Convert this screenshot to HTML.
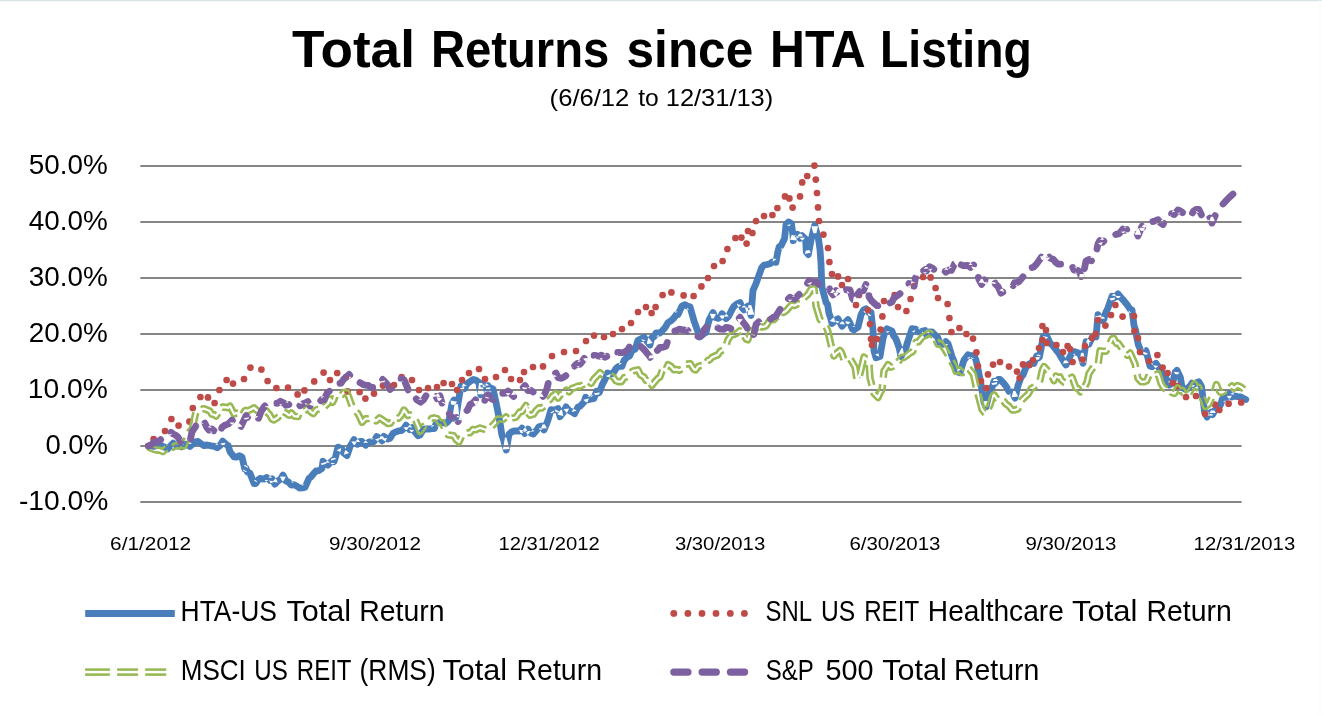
<!DOCTYPE html>
<html><head><meta charset="utf-8"><title>Total Returns since HTA Listing</title>
<style>html,body{margin:0;padding:0;background:#fff}svg{display:block}text{font-family:"Liberation Sans",sans-serif;fill:#000}</style></head><body>
<svg width="1322" height="714" viewBox="0 0 1322 714">
<rect x="0" y="0" width="1322" height="714" fill="#fff"/>
<rect x="0" y="0" width="1322" height="1" fill="#d9e3e6"/><rect x="0" y="1" width="1322" height="1" fill="#f3f8f9"/>
<rect x="1319.5" y="0" width="1" height="714" fill="#f7f9fa"/>
<g style="opacity:0.999">
<text x="291.98" y="66.8" font-size="52" font-weight="bold" textLength="122.95" lengthAdjust="spacingAndGlyphs">Total</text>
<text x="430.88" y="66.8" font-size="52" font-weight="bold" textLength="178.38" lengthAdjust="spacingAndGlyphs">Returns</text>
<text x="626.6" y="66.8" font-size="52" font-weight="bold" textLength="126.59" lengthAdjust="spacingAndGlyphs">since</text>
<text x="770.12" y="66.8" font-size="52" font-weight="bold" textLength="95.63" lengthAdjust="spacingAndGlyphs">HTA</text>
<text x="880.03" y="66.8" font-size="52" font-weight="bold" textLength="151.72" lengthAdjust="spacingAndGlyphs">Listing</text>
<text x="549.63" y="106.1" font-size="24" textLength="79.73" lengthAdjust="spacingAndGlyphs">(6/6/12</text>
<text x="638.2" y="106.1" font-size="24" textLength="20.54" lengthAdjust="spacingAndGlyphs">to</text>
<text x="665.78" y="106.1" font-size="24" textLength="107.42" lengthAdjust="spacingAndGlyphs">12/31/13)</text>
<text x="28.82" y="174.3" font-size="28.5" textLength="78.97" lengthAdjust="spacingAndGlyphs">50.0%</text>
<text x="28.82" y="230.3" font-size="28.5" textLength="78.97" lengthAdjust="spacingAndGlyphs">40.0%</text>
<text x="28.82" y="286.3" font-size="28.5" textLength="78.97" lengthAdjust="spacingAndGlyphs">30.0%</text>
<text x="28.82" y="342.3" font-size="28.5" textLength="78.97" lengthAdjust="spacingAndGlyphs">20.0%</text>
<text x="27.82" y="398.3" font-size="28.5" textLength="79.98" lengthAdjust="spacingAndGlyphs">10.0%</text>
<text x="45.44" y="454.3" font-size="28.5" textLength="62.49" lengthAdjust="spacingAndGlyphs">0.0%</text>
<text x="18.91" y="510.3" font-size="28.5" textLength="89.39" lengthAdjust="spacingAndGlyphs">-10.0%</text>
<text x="110.09" y="550.2" font-size="18.8" textLength="81.04" lengthAdjust="spacingAndGlyphs">6/1/2012</text>
<text x="329.1" y="550.2" font-size="18.8" textLength="91.82" lengthAdjust="spacingAndGlyphs">9/30/2012</text>
<text x="498.42" y="550.2" font-size="18.8" textLength="101.25" lengthAdjust="spacingAndGlyphs">12/31/2012</text>
<text x="674.92" y="550.2" font-size="18.8" textLength="90.29" lengthAdjust="spacingAndGlyphs">3/30/2013</text>
<text x="849.41" y="550.2" font-size="18.8" textLength="91.0" lengthAdjust="spacingAndGlyphs">6/30/2013</text>
<text x="1025.41" y="550.2" font-size="18.8" textLength="91.0" lengthAdjust="spacingAndGlyphs">9/30/2013</text>
<text x="1193.62" y="550.2" font-size="18.8" textLength="101.56" lengthAdjust="spacingAndGlyphs">12/31/2013</text>
<text x="180.58" y="621.3" font-size="29" textLength="96.35" lengthAdjust="spacingAndGlyphs">HTA-US</text>
<text x="286.44" y="621.3" font-size="29" textLength="64.65" lengthAdjust="spacingAndGlyphs">Total</text>
<text x="359.24" y="621.3" font-size="29" textLength="85.26" lengthAdjust="spacingAndGlyphs">Return</text>
<text x="180.7" y="680.3" font-size="29" textLength="65.14" lengthAdjust="spacingAndGlyphs">MSCI</text>
<text x="254.34" y="680.3" font-size="29" textLength="33.54" lengthAdjust="spacingAndGlyphs">US</text>
<text x="296.85" y="680.3" font-size="29" textLength="54.63" lengthAdjust="spacingAndGlyphs">REIT</text>
<text x="359.58" y="680.3" font-size="29" textLength="76.12" lengthAdjust="spacingAndGlyphs">(RMS)</text>
<text x="442.54" y="680.3" font-size="29" textLength="64.65" lengthAdjust="spacingAndGlyphs">Total</text>
<text x="516.54" y="680.3" font-size="29" textLength="85.47" lengthAdjust="spacingAndGlyphs">Return</text>
<text x="765.58" y="621.3" font-size="29" textLength="46.47" lengthAdjust="spacingAndGlyphs">SNL</text>
<text x="820.9" y="621.3" font-size="29" textLength="34.2" lengthAdjust="spacingAndGlyphs">US</text>
<text x="864.13" y="621.3" font-size="29" textLength="55.05" lengthAdjust="spacingAndGlyphs">REIT</text>
<text x="927.86" y="621.3" font-size="29" textLength="135.95" lengthAdjust="spacingAndGlyphs">Healthcare</text>
<text x="1071.93" y="621.3" font-size="29" textLength="65.49" lengthAdjust="spacingAndGlyphs">Total</text>
<text x="1146.54" y="621.3" font-size="29" textLength="85.26" lengthAdjust="spacingAndGlyphs">Return</text>
<text x="765.67" y="680.3" font-size="29" textLength="47.98" lengthAdjust="spacingAndGlyphs">S&amp;P</text>
<text x="825.41" y="680.3" font-size="29" textLength="48.08" lengthAdjust="spacingAndGlyphs">500</text>
<text x="882.25" y="680.3" font-size="29" textLength="64.54" lengthAdjust="spacingAndGlyphs">Total</text>
<text x="954.04" y="680.3" font-size="29" textLength="85.26" lengthAdjust="spacingAndGlyphs">Return</text>
</g>
<line x1="140.3" y1="166" x2="1241.6" y2="166" stroke="#858585" stroke-width="2.1"/>
<line x1="140.3" y1="222" x2="1241.6" y2="222" stroke="#858585" stroke-width="2.1"/>
<line x1="140.3" y1="278" x2="1241.6" y2="278" stroke="#858585" stroke-width="2.1"/>
<line x1="140.3" y1="334" x2="1241.6" y2="334" stroke="#858585" stroke-width="2.1"/>
<line x1="140.3" y1="390" x2="1241.6" y2="390" stroke="#858585" stroke-width="2.1"/>
<line x1="140.3" y1="446" x2="1241.6" y2="446" stroke="#858585" stroke-width="2.1"/>
<line x1="140.3" y1="502" x2="1241.6" y2="502" stroke="#858585" stroke-width="2.1"/>
<mask id="bm" maskUnits="userSpaceOnUse" x="0" y="0" width="1322" height="714"><rect x="0" y="0" width="1322" height="714" fill="#fff"/><path d="M169.4,446.0 L167.0,444.6 L167.0,444.6 L165.1,446.6ZM175.6,445.4 L173.1,448.0 L173.1,448.0 L170.7,445.4ZM178.4,443.7 L177.1,442.4 L177.1,442.4 L175.3,442.7ZM180.9,448.4 L179.5,448.8 L178.4,448.4 L177.4,447.4ZM184.0,444.5 L182.6,442.9 L181.1,442.8 L179.4,444.0ZM192.0,443.8 L189.9,442.2 L189.9,442.2 L187.8,443.9ZM218.7,444.6 L216.8,443.7 L216.8,443.7 L215.2,444.9ZM225.6,442.8 L223.4,446.5 L223.4,446.5 L220.3,443.5ZM248.0,468.0 L247.7,466.6 L245.0,465.0 L243.6,465.5ZM247.0,471.5 L245.7,471.9 L243.3,470.8 L242.8,469.5ZM257.2,482.4 L256.6,480.9 L255.3,480.1 L253.7,480.3ZM268.5,480.3 L266.3,481.6 L266.3,481.6 L264.4,480.0ZM272.2,477.7 L270.2,476.0 L270.2,476.0 L268.1,477.4ZM274.1,481.6 L271.9,483.1 L270.3,482.7 L269.1,480.4ZM277.9,482.5 L275.9,478.6 L275.6,478.5 L272.5,481.7ZM285.9,476.8 L283.3,481.2 L282.2,481.1 L279.9,476.6ZM293.8,482.8 L292.5,481.5 L292.5,481.5 L290.7,481.9ZM304.5,484.1 L302.6,484.4 L302.6,484.4 L301.9,486.1ZM326.4,461.8 L326.1,463.7 L322.0,465.1 L320.6,463.7ZM329.9,462.4 L327.5,460.7 L327.3,460.7 L325.4,463.0ZM334.9,462.9 L333.6,464.1 L331.8,464.2 L330.5,463.0ZM336.2,459.0 L334.8,457.8 L331.3,458.8 L330.8,460.5ZM341.3,448.0 L340.3,451.9 L340.3,451.9 L336.6,450.2ZM349.2,453.1 L345.8,450.3 L345.1,450.5 L343.8,454.7ZM357.0,441.2 L354.9,445.0 L353.9,445.1 L351.3,441.6ZM360.1,442.1 L357.8,439.0 L357.8,439.0 L355.0,441.7ZM368.1,442.8 L365.6,440.4 L365.6,440.4 L363.2,442.8ZM373.8,438.2 L371.8,438.3 L371.8,438.3 L370.9,440.0ZM379.6,438.1 L378.0,441.2 L378.0,441.2 L375.0,439.5ZM384.7,438.6 L382.5,436.1 L380.3,436.5 L379.0,439.5ZM387.1,437.7 L385.5,441.6 L385.5,441.6 L382.1,439.2ZM408.9,427.0 L407.0,430.0 L405.6,430.1 L403.4,427.3ZM412.3,427.5 L410.3,425.1 L409.8,425.1 L407.5,427.0ZM414.2,430.3 L411.8,432.2 L411.0,432.1 L409.2,429.6ZM420.6,433.6 L419.2,431.8 L418.9,431.7 L416.8,432.4ZM434.4,425.2 L431.9,425.3 L431.9,425.3 L431.2,427.6ZM439.2,424.5 L438.7,426.3 L438.7,426.3 L436.9,426.8ZM457.0,401.7 L455.0,405.3 L451.1,404.5 L450.6,400.4ZM459.4,417.2 L457.9,404.3 L454.5,404.2 L452.6,417.1ZM464.3,386.7 L463.6,391.0 L462.7,391.4 L459.1,388.9ZM466.6,385.8 L463.3,383.6 L463.3,383.6 L461.6,387.1ZM484.1,394.2 L482.3,383.1 L479.2,383.1 L477.3,394.2ZM486.0,384.2 L485.6,386.4 L481.1,387.4 L479.8,385.6ZM488.9,385.3 L486.9,383.6 L485.1,383.9 L483.8,386.0ZM490.9,387.5 L489.7,389.3 L486.8,389.5 L485.4,387.8ZM491.8,392.0 L490.1,391.3 L490.1,391.3 L489.7,389.5ZM509.6,449.1 L506.4,437.5 L505.0,437.6 L502.9,449.4ZM524.6,430.4 L522.3,433.2 L520.7,433.0 L519.0,429.7ZM527.7,432.0 L525.2,427.0 L525.2,427.0 L522.0,431.5ZM530.7,431.0 L527.9,434.9 L527.8,434.9 L525.2,430.9ZM534.7,431.0 L532.4,430.0 L532.4,430.0 L530.8,431.9ZM542.6,429.2 L540.0,429.9 L540.0,429.9 L538.7,427.7ZM546.9,428.2 L544.6,424.2 L542.6,424.4 L540.9,428.6ZM554.3,410.5 L553.8,412.1 L551.7,413.3 L550.0,412.8ZM559.6,411.7 L557.4,412.6 L555.4,411.6 L554.8,409.3ZM563.3,415.9 L562.0,410.0 L560.9,409.8 L557.3,414.6ZM569.1,408.4 L567.1,412.6 L566.6,412.7 L563.5,409.2ZM576.6,410.8 L573.9,409.0 L573.1,409.3 L571.6,412.1ZM588.9,398.4 L587.6,401.9 L586.1,402.3 L583.4,399.8ZM590.7,397.3 L589.3,396.0 L589.3,396.0 L587.5,396.5ZM593.5,395.2 L591.6,395.5 L591.4,395.7 L590.7,397.4ZM599.8,392.4 L599.0,394.5 L595.2,395.0 L593.9,393.2ZM600.8,391.1 L599.9,389.8 L597.9,389.3 L596.5,390.0ZM610.8,374.1 L609.9,376.7 L608.2,377.3 L605.9,375.9ZM622.0,363.0 L619.6,363.0 L619.6,363.0 L618.8,365.2ZM645.5,340.3 L643.0,341.6 L643.0,341.6 L641.3,339.3ZM652.7,342.9 L648.8,338.1 L648.1,338.3 L646.7,344.3ZM659.1,334.5 L658.1,336.4 L658.1,336.4 L656.1,336.4ZM677.8,311.3 L676.2,311.4 L675.6,311.8 L674.9,313.2ZM689.3,310.0 L687.3,309.6 L687.3,309.6 L686.7,307.6ZM703.1,335.6 L701.5,331.8 L701.0,331.6 L697.8,334.4ZM716.0,314.1 L713.7,318.6 L711.7,318.5 L709.8,313.8ZM725.1,315.1 L723.5,318.6 L721.8,318.9 L719.3,315.8ZM728.7,316.6 L726.4,313.8 L726.4,313.8 L723.7,316.2ZM741.4,305.5 L738.3,307.0 L738.2,306.9 L736.9,303.8ZM746.4,307.5 L744.8,305.8 L743.3,305.8 L741.6,307.4ZM750.4,308.5 L746.4,312.2 L746.4,312.2 L744.8,307.0ZM754.2,314.4 L751.2,305.0 L748.4,305.3 L747.6,315.1ZM776.6,259.0 L773.2,258.4 L773.2,258.4 L772.6,261.8ZM782.5,247.4 L782.1,249.2 L782.0,249.3 L780.3,249.8ZM791.0,224.2 L789.2,226.2 L789.2,226.2 L786.8,224.9ZM796.7,240.5 L796.4,235.7 L791.6,235.1 L790.1,239.7ZM799.1,237.1 L796.7,238.5 L796.1,238.4 L794.6,236.0ZM803.0,236.5 L801.2,233.7 L799.2,233.7 L797.3,236.4ZM804.8,237.5 L803.0,240.2 L802.0,240.3 L799.6,238.0ZM811.0,252.6 L809.0,249.9 L805.6,250.7 L805.0,254.0ZM818.0,226.2 L816.3,233.2 L813.4,233.2 L811.4,226.3ZM835.3,322.6 L834.0,317.6 L833.6,317.4 L829.7,320.9ZM839.7,321.7 L837.6,322.9 L836.2,322.5 L835.0,320.4ZM845.0,324.6 L843.4,321.7 L841.6,321.5 L839.4,324.0ZM850.5,321.9 L848.3,324.2 L846.8,324.0 L845.1,321.3ZM855.5,326.8 L853.9,326.0 L853.6,326.0 L852.1,327.0ZM867.7,311.8 L865.1,313.3 L865.1,313.3 L863.3,310.9ZM871.6,310.6 L870.4,309.0 L870.4,309.0 L868.4,309.3ZM871.5,315.7 L869.4,316.0 L867.9,314.9 L867.6,312.7ZM879.3,356.8 L878.3,353.5 L878.3,353.5 L875.0,354.5ZM879.0,353.2 L877.0,353.9 L877.0,353.9 L876.6,355.9ZM889.5,331.0 L887.9,332.8 L887.7,332.8 L885.5,331.8ZM904.3,355.9 L902.8,348.3 L901.6,348.1 L898.0,355.0ZM915.2,329.7 L914.4,332.3 L914.4,332.3 L911.6,332.0ZM920.6,329.8 L919.5,328.3 L919.5,328.3 L917.6,328.6ZM925.9,333.8 L922.8,334.6 L922.8,334.6 L921.8,331.6ZM929.9,334.1 L928.4,330.0 L926.8,329.7 L924.0,333.0ZM944.2,341.0 L942.3,340.4 L942.3,340.4 L940.8,341.8ZM948.2,344.1 L946.2,346.1 L945.7,346.1 L943.6,344.2ZM959.3,370.8 L959.0,368.8 L959.0,368.8 L957.0,368.2ZM961.0,369.5 L957.8,368.4 L957.8,368.4 L956.8,371.7ZM970.7,356.8 L969.2,358.8 L969.2,358.8 L966.9,358.0ZM974.1,359.0 L971.8,359.1 L971.8,359.1 L970.9,357.0ZM989.1,405.6 L987.1,401.0 L983.8,401.3 L982.7,406.2ZM997.3,382.1 L996.7,384.3 L992.7,385.1 L991.3,383.3ZM998.1,381.0 L996.7,379.1 L994.1,379.1 L992.7,381.0ZM1012.1,389.9 L1011.2,388.4 L1011.2,388.4 L1009.5,388.3ZM1011.7,395.3 L1009.8,395.1 L1009.8,395.1 L1008.9,393.4ZM1018.1,396.6 L1015.1,390.4 L1013.3,390.6 L1011.7,397.3ZM1035.4,360.4 L1033.5,359.5 L1031.4,360.3 L1030.7,362.3ZM1039.8,357.1 L1039.0,359.5 L1035.1,359.9 L1033.7,357.6ZM1040.9,356.4 L1040.0,354.9 L1037.5,354.4 L1036.1,355.3ZM1048.2,337.2 L1045.3,339.6 L1044.6,339.4 L1043.0,336.1ZM1068.8,363.0 L1066.9,360.4 L1064.3,360.6 L1062.9,363.5ZM1075.4,353.3 L1074.7,354.7 L1074.4,354.9 L1072.8,355.1ZM1086.2,362.2 L1083.2,352.7 L1081.0,352.9 L1079.6,362.8ZM1089.4,342.1 L1088.8,346.0 L1086.6,346.8 L1083.7,344.2ZM1091.2,341.7 L1088.3,339.1 L1087.5,339.3 L1085.8,342.8ZM1096.6,333.4 L1095.0,333.1 L1092.8,334.8 L1092.6,336.5ZM1101.4,315.0 L1101.1,318.6 L1097.0,319.6 L1095.1,316.4ZM1105.1,318.4 L1103.5,316.7 L1101.2,316.9 L1099.8,318.8ZM1115.2,297.4 L1114.4,299.8 L1111.1,300.5 L1109.4,298.6ZM1116.2,296.0 L1114.6,294.1 L1113.5,294.0 L1111.5,295.6ZM1120.7,296.0 L1119.1,298.1 L1117.1,298.1 L1115.4,296.1ZM1131.1,313.1 L1129.2,312.6 L1128.9,312.2 L1128.6,310.3ZM1145.3,349.1 L1143.5,348.3 L1143.5,348.3 L1141.9,349.5ZM1148.0,353.5 L1145.9,355.0 L1143.4,354.1 L1142.7,351.6ZM1153.3,365.3 L1152.8,363.3 L1152.8,363.3 L1150.8,362.9ZM1153.0,363.4 L1151.3,363.0 L1151.3,363.0 L1149.9,364.1ZM1158.2,365.9 L1156.1,367.8 L1154.9,367.7 L1153.2,365.3ZM1172.4,383.6 L1171.3,381.4 L1169.7,380.9 L1167.6,382.1ZM1179.5,372.6 L1177.7,374.5 L1175.1,374.1 L1173.9,371.7ZM1194.9,384.9 L1193.8,386.6 L1190.9,386.9 L1189.5,385.4ZM1195.9,382.3 L1194.5,380.8 L1193.4,380.6 L1191.6,381.7ZM1199.9,385.0 L1198.0,385.6 L1196.9,385.2 L1195.9,383.4ZM1210.1,415.7 L1207.9,411.2 L1207.1,411.1 L1204.2,415.1ZM1213.4,414.7 L1212.0,415.8 L1209.1,415.2 L1208.3,413.6ZM1215.7,413.0 L1214.3,410.5 L1210.9,410.5 L1209.6,413.1ZM1225.6,399.9 L1225.2,401.2 L1224.1,402.1 L1222.8,402.3ZM1232.0,395.7 L1230.1,398.5 L1228.8,398.6 L1226.6,396.1ZM1234.5,394.8 L1232.9,393.0 L1232.3,392.9 L1230.2,394.1Z" fill="#000"/></mask>
<path d="M148.4,446.0 L150.0,445.6 L153.9,446.4 L156.7,445.8 L159.4,444.9 L162.2,446.0 L164.9,447.3 L167.7,448.9 L170.0,446.3 L173.2,443.1 L175.9,446.0 L178.7,445.5 L180.0,445.2 L181.4,446.8 L184.2,444.7 L186.9,444.2 L190.0,446.5 L192.4,444.5 L195.2,441.8 L198.0,441.5 L200.7,443.5 L204.0,445.7 L206.2,445.0 L208.9,445.3 L211.7,446.1 L214.0,446.1 L217.2,447.7 L219.9,445.7 L222.7,441.1 L226.0,444.3 L228.2,445.6 L230.0,451.7 L234.0,456.9 L236.4,457.1 L239.2,455.7 L242.0,457.0 L244.7,468.7 L246.0,468.3 L247.4,471.9 L250.0,473.2 L254.0,483.6 L255.7,483.5 L258.4,479.6 L260.0,478.3 L263.9,479.1 L266.6,477.4 L270.0,480.3 L272.1,478.8 L274.9,484.1 L278.0,480.9 L280.4,479.4 L283.0,475.1 L285.9,481.0 L288.0,481.7 L291.4,485.2 L294.1,484.6 L298.0,486.9 L299.6,488.2 L302.4,487.9 L305.0,487.5 L309.0,478.4 L310.6,477.2 L314.0,473.2 L316.1,470.9 L318.9,470.6 L322.0,468.4 L323.0,461.3 L324.4,462.7 L328.0,465.2 L329.9,462.9 L332.6,460.4 L334.0,461.6 L335.4,457.3 L338.0,447.1 L342.0,448.9 L343.6,452.9 L347.0,455.7 L350.0,446.6 L351.9,443.4 L354.0,439.6 L357.4,444.2 L360.1,441.4 L362.0,441.5 L365.6,445.2 L368.4,442.4 L370.0,441.8 L373.9,441.6 L376.6,436.5 L380.0,438.4 L382.1,440.8 L384.0,436.4 L387.6,439.0 L390.0,438.2 L393.1,433.2 L396.0,431.8 L398.6,430.8 L401.4,430.6 L404.1,428.2 L406.0,425.2 L409.6,429.6 L412.0,427.7 L415.1,432.2 L417.9,435.7 L420.0,435.0 L423.4,429.4 L426.1,428.8 L430.0,429.0 L431.6,428.7 L434.4,428.6 L436.0,423.5 L439.9,422.4 L442.0,422.4 L445.4,423.3 L447.0,422.5 L449.0,420.3 L452.0,403.6 L454.0,400.0 L456.0,417.6 L458.3,401.6 L461.0,386.1 L464.6,388.6 L467.0,383.7 L470.1,381.4 L473.4,379.5 L475.6,380.0 L478.7,382.3 L480.7,394.8 L482.6,383.6 L483.9,385.5 L486.6,387.8 L488.0,385.7 L489.4,387.4 L493.0,388.8 L496.0,402.3 L498.4,414.4 L500.4,425.1 L501.7,434.3 L503.1,438.4 L506.3,450.0 L509.0,434.2 L511.4,432.0 L514.0,431.0 L516.9,430.9 L519.6,431.1 L522.0,428.2 L524.7,433.5 L528.0,429.0 L530.6,433.0 L533.4,434.1 L536.0,431.1 L539.0,426.7 L541.6,425.9 L544.0,429.9 L548.0,420.1 L551.0,409.6 L552.6,410.0 L556.0,409.6 L558.1,408.6 L560.0,416.7 L563.6,411.9 L566.0,406.9 L569.1,410.4 L572.0,411.9 L574.6,413.7 L578.0,407.0 L580.1,406.3 L584.0,402.0 L585.6,397.3 L588.4,399.8 L592.0,398.8 L593.9,398.6 L596.6,391.2 L598.0,393.1 L599.4,392.4 L602.0,385.3 L606.0,377.4 L607.6,373.0 L610.0,374.4 L613.1,373.3 L616.0,368.4 L618.6,366.4 L622.0,366.4 L624.1,360.4 L627.0,357.3 L629.6,355.9 L632.0,350.6 L635.1,349.2 L638.0,340.3 L640.6,339.0 L644.0,337.3 L646.1,340.2 L650.0,345.0 L651.6,338.0 L654.4,336.3 L656.0,333.0 L659.9,333.0 L662.0,331.1 L665.4,327.2 L668.0,322.6 L670.9,320.9 L673.6,318.3 L676.4,314.7 L678.0,314.6 L681.9,306.1 L685.0,304.7 L687.4,306.1 L690.0,306.7 L694.0,320.9 L695.6,325.3 L698.4,333.1 L700.0,336.9 L703.9,333.6 L706.0,332.5 L709.0,320.2 L713.0,312.6 L714.9,317.3 L718.0,318.4 L720.4,317.2 L722.0,313.7 L726.0,318.7 L728.6,316.3 L732.0,309.6 L734.1,306.1 L736.9,303.9 L740.0,302.5 L742.4,308.2 L744.0,309.8 L748.0,306.0 L751.0,315.4 L753.0,290.3 L756.0,283.6 L760.0,272.3 L761.6,267.8 L764.0,265.1 L767.1,264.5 L770.0,263.7 L772.6,261.8 L776.0,262.3 L777.5,253.3 L779.2,246.6 L780.9,246.0 L784.6,238.4 L786.0,224.7 L788.5,221.9 L791.5,223.7 L793.0,235.9 L793.3,240.7 L795.0,235.6 L797.4,234.2 L800.1,238.3 L802.0,235.6 L805.6,239.2 L806.3,251.9 L808.3,254.6 L811.0,240.3 L814.7,225.4 L816.6,232.3 L818.3,237.7 L820.0,249.5 L821.0,263.4 L821.5,277.2 L822.0,287.1 L826.0,302.4 L827.6,304.5 L829.0,313.5 L830.4,317.2 L832.0,323.5 L835.9,320.0 L838.0,318.8 L842.0,326.2 L844.1,323.7 L848.0,319.6 L849.6,322.2 L852.4,329.1 L854.0,329.8 L858.0,327.2 L861.0,314.9 L863.4,310.3 L866.0,308.8 L868.9,312.7 L871.0,312.4 L873.0,329.9 L874.0,351.0 L876.0,357.7 L880.0,356.5 L883.0,338.7 L885.4,330.5 L887.0,328.7 L892.0,331.1 L893.6,335.8 L896.0,339.0 L899.1,347.5 L901.0,356.6 L904.6,349.7 L906.0,347.7 L907.4,342.5 L910.1,334.6 L912.0,328.7 L915.6,329.1 L918.0,331.9 L921.1,331.6 L925.0,330.5 L926.6,335.2 L929.4,331.9 L932.0,331.8 L934.9,334.8 L937.6,337.2 L940.0,343.2 L943.1,344.2 L945.9,341.6 L948.0,343.6 L952.0,356.5 L954.1,361.6 L956.0,371.4 L960.0,372.7 L962.4,365.1 L964.0,360.1 L968.0,354.8 L970.6,355.7 L974.0,355.6 L976.1,360.4 L978.0,368.9 L981.0,384.4 L984.0,402.4 L986.0,407.0 L990.0,389.7 L992.6,386.2 L994.0,381.2 L995.4,383.0 L998.1,379.5 L1000.0,379.3 L1003.6,383.1 L1006.0,386.1 L1009.1,391.6 L1012.0,391.9 L1015.0,398.1 L1018.0,385.7 L1021.0,377.3 L1022.9,375.2 L1026.0,367.3 L1028.4,364.5 L1032.0,362.6 L1033.9,363.5 L1036.7,355.9 L1038.0,358.1 L1039.4,357.2 L1041.0,349.1 L1043.0,337.1 L1046.0,334.6 L1047.7,337.9 L1050.0,343.1 L1053.2,346.1 L1056.0,349.8 L1058.7,353.1 L1062.0,358.8 L1064.2,362.3 L1066.0,365.0 L1070.0,356.5 L1072.4,351.8 L1074.0,351.6 L1077.9,352.8 L1080.0,353.7 L1083.0,363.2 L1086.0,341.7 L1088.9,344.2 L1092.0,337.9 L1094.4,336.5 L1096.0,336.8 L1098.0,314.7 L1099.9,317.8 L1102.7,320.8 L1104.0,318.8 L1105.4,313.4 L1108.0,307.9 L1112.0,296.3 L1113.7,298.2 L1116.4,296.0 L1118.0,293.9 L1121.9,298.6 L1124.0,300.9 L1127.4,305.2 L1130.2,309.3 L1132.0,309.9 L1134.0,325.4 L1135.7,330.5 L1137.0,338.6 L1138.4,345.1 L1141.0,350.9 L1143.9,352.2 L1146.0,350.7 L1150.0,366.1 L1152.2,366.7 L1156.0,363.4 L1157.7,365.7 L1160.0,369.4 L1162.6,373.0 L1165.9,377.9 L1169.3,385.1 L1171.4,383.8 L1172.7,382.8 L1175.2,372.2 L1177.0,370.3 L1180.3,377.2 L1182.0,387.0 L1185.2,389.3 L1187.0,389.0 L1190.7,385.3 L1192.0,383.1 L1193.4,384.6 L1197.0,382.4 L1198.9,381.8 L1201.5,386.5 L1203.0,398.6 L1204.6,412.1 L1207.0,417.1 L1209.9,413.1 L1211.3,412.1 L1212.7,414.6 L1214.7,410.6 L1219.0,407.4 L1220.9,403.9 L1222.3,398.9 L1223.7,398.8 L1227.3,396.6 L1229.2,393.8 L1231.9,397.0 L1234.0,395.9 L1237.4,396.6 L1240.8,397.0 L1242.9,398.1 L1245.8,399.5" fill="none" stroke="#4a7ebb" stroke-width="6.8" stroke-linejoin="round" stroke-linecap="round" mask="url(#bm)"/>
<g fill="#be4b48"><circle cx="148.4" cy="446.0" r="3.35"/><circle cx="153.6" cy="439.0" r="3.35"/><circle cx="165.0" cy="431.0" r="3.35"/><circle cx="171.4" cy="419.0" r="3.35"/><circle cx="178.6" cy="425.6" r="3.35"/><circle cx="189.4" cy="421.6" r="3.35"/><circle cx="192.8" cy="408.0" r="3.35"/><circle cx="200.4" cy="397.0" r="3.35"/><circle cx="208.0" cy="397.4" r="3.35"/><circle cx="214.6" cy="403.0" r="3.35"/><circle cx="219.4" cy="390.0" r="3.35"/><circle cx="226.6" cy="380.0" r="3.35"/><circle cx="233.0" cy="383.6" r="3.35"/><circle cx="244.0" cy="379.0" r="3.35"/><circle cx="250.4" cy="367.6" r="3.35"/><circle cx="261.4" cy="369.6" r="3.35"/><circle cx="267.6" cy="381.0" r="3.35"/><circle cx="276.4" cy="388.0" r="3.35"/><circle cx="288.0" cy="387.6" r="3.35"/><circle cx="297.6" cy="394.4" r="3.35"/><circle cx="304.4" cy="390.4" r="3.35"/><circle cx="314.2" cy="381.4" r="3.35"/><circle cx="323.6" cy="372.6" r="3.35"/><circle cx="330.0" cy="380.0" r="3.35"/><circle cx="337.2" cy="373.0" r="3.35"/><circle cx="346.0" cy="377.0" r="3.35"/><circle cx="347.6" cy="391.4" r="3.35"/><circle cx="359.6" cy="392.0" r="3.35"/><circle cx="365.4" cy="398.6" r="3.35"/><circle cx="374.0" cy="393.6" r="3.35"/><circle cx="383.0" cy="385.6" r="3.35"/><circle cx="390.0" cy="387.0" r="3.35"/><circle cx="394.0" cy="385.0" r="3.35"/><circle cx="401.6" cy="377.0" r="3.35"/><circle cx="412.0" cy="380.0" r="3.35"/><circle cx="419.0" cy="390.0" r="3.35"/><circle cx="428.0" cy="388.0" r="3.35"/><circle cx="437.0" cy="387.0" r="3.35"/><circle cx="443.6" cy="383.0" r="3.35"/><circle cx="452.0" cy="384.0" r="3.35"/><circle cx="457.0" cy="390.0" r="3.35"/><circle cx="462.0" cy="380.0" r="3.35"/><circle cx="469.0" cy="373.0" r="3.35"/><circle cx="479.0" cy="369.0" r="3.35"/><circle cx="485.0" cy="379.0" r="3.35"/><circle cx="496.0" cy="377.0" r="3.35"/><circle cx="505.0" cy="370.0" r="3.35"/><circle cx="511.0" cy="379.0" r="3.35"/><circle cx="520.0" cy="380.0" r="3.35"/><circle cx="524.0" cy="372.0" r="3.35"/><circle cx="533.0" cy="367.0" r="3.35"/><circle cx="543.0" cy="366.4" r="3.35"/><circle cx="552.0" cy="356.0" r="3.35"/><circle cx="564.0" cy="352.0" r="3.35"/><circle cx="576.0" cy="351.0" r="3.35"/><circle cx="586.0" cy="341.0" r="3.35"/><circle cx="594.0" cy="335.6" r="3.35"/><circle cx="604.0" cy="337.0" r="3.35"/><circle cx="613.0" cy="334.0" r="3.35"/><circle cx="622.0" cy="329.0" r="3.35"/><circle cx="631.0" cy="323.0" r="3.35"/><circle cx="638.0" cy="312.0" r="3.35"/><circle cx="646.0" cy="307.0" r="3.35"/><circle cx="651.6" cy="313.0" r="3.35"/><circle cx="655.6" cy="307.0" r="3.35"/><circle cx="662.6" cy="295.0" r="3.35"/><circle cx="671.4" cy="292.4" r="3.35"/><circle cx="683.6" cy="295.4" r="3.35"/><circle cx="693.6" cy="296.0" r="3.35"/><circle cx="701.4" cy="286.4" r="3.35"/><circle cx="708.0" cy="278.0" r="3.35"/><circle cx="714.0" cy="266.0" r="3.35"/><circle cx="722.6" cy="261.0" r="3.35"/><circle cx="727.4" cy="249.0" r="3.35"/><circle cx="735.4" cy="238.0" r="3.35"/><circle cx="741.4" cy="237.6" r="3.35"/><circle cx="746.6" cy="243.6" r="3.35"/><circle cx="748.0" cy="231.0" r="3.35"/><circle cx="752.4" cy="233.0" r="3.35"/><circle cx="756.0" cy="221.0" r="3.35"/><circle cx="764.0" cy="216.0" r="3.35"/><circle cx="772.4" cy="215.0" r="3.35"/><circle cx="777.4" cy="208.0" r="3.35"/><circle cx="785.0" cy="196.4" r="3.35"/><circle cx="789.4" cy="198.4" r="3.35"/><circle cx="792.6" cy="207.6" r="3.35"/><circle cx="800.0" cy="196.4" r="3.35"/><circle cx="802.2" cy="182.4" r="3.35"/><circle cx="807.2" cy="176.0" r="3.35"/><circle cx="814.4" cy="165.6" r="3.35"/><circle cx="815.8" cy="179.6" r="3.35"/><circle cx="817.0" cy="193.0" r="3.35"/><circle cx="818.0" cy="207.4" r="3.35"/><circle cx="819.0" cy="221.0" r="3.35"/><circle cx="823.4" cy="234.6" r="3.35"/><circle cx="828.0" cy="248.0" r="3.35"/><circle cx="829.4" cy="262.0" r="3.35"/><circle cx="832.0" cy="274.0" r="3.35"/><circle cx="838.0" cy="276.4" r="3.35"/><circle cx="842.0" cy="285.0" r="3.35"/><circle cx="848.0" cy="279.0" r="3.35"/><circle cx="859.0" cy="295.0" r="3.35"/><circle cx="856.0" cy="305.0" r="3.35"/><circle cx="868.0" cy="310.0" r="3.35"/><circle cx="870.0" cy="324.0" r="3.35"/><circle cx="871.0" cy="339.0" r="3.35"/><circle cx="872.0" cy="345.0" r="3.35"/><circle cx="877.0" cy="339.0" r="3.35"/><circle cx="880.6" cy="329.6" r="3.35"/><circle cx="882.4" cy="316.4" r="3.35"/><circle cx="884.0" cy="301.0" r="3.35"/><circle cx="894.6" cy="295.0" r="3.35"/><circle cx="898.0" cy="307.0" r="3.35"/><circle cx="906.4" cy="311.0" r="3.35"/><circle cx="910.6" cy="299.0" r="3.35"/><circle cx="914.0" cy="286.0" r="3.35"/><circle cx="923.0" cy="277.0" r="3.35"/><circle cx="930.6" cy="277.4" r="3.35"/><circle cx="935.6" cy="288.0" r="3.35"/><circle cx="938.0" cy="298.0" r="3.35"/><circle cx="947.6" cy="304.0" r="3.35"/><circle cx="949.4" cy="318.0" r="3.35"/><circle cx="951.4" cy="332.0" r="3.35"/><circle cx="959.4" cy="328.0" r="3.35"/><circle cx="966.4" cy="334.0" r="3.35"/><circle cx="973.0" cy="338.6" r="3.35"/><circle cx="976.4" cy="352.4" r="3.35"/><circle cx="978.0" cy="366.0" r="3.35"/><circle cx="981.0" cy="381.0" r="3.35"/><circle cx="986.4" cy="388.0" r="3.35"/><circle cx="988.0" cy="374.4" r="3.35"/><circle cx="993.0" cy="364.6" r="3.35"/><circle cx="1000.0" cy="362.0" r="3.35"/><circle cx="1009.0" cy="366.6" r="3.35"/><circle cx="1017.0" cy="371.6" r="3.35"/><circle cx="1019.6" cy="378.0" r="3.35"/><circle cx="1023.0" cy="364.4" r="3.35"/><circle cx="1029.6" cy="365.0" r="3.35"/><circle cx="1033.0" cy="360.0" r="3.35"/><circle cx="1039.0" cy="348.0" r="3.35"/><circle cx="1042.4" cy="340.0" r="3.35"/><circle cx="1042.4" cy="326.0" r="3.35"/><circle cx="1046.0" cy="330.0" r="3.35"/><circle cx="1047.0" cy="343.0" r="3.35"/><circle cx="1056.4" cy="345.0" r="3.35"/><circle cx="1063.0" cy="352.0" r="3.35"/><circle cx="1067.6" cy="346.0" r="3.35"/><circle cx="1070.0" cy="349.0" r="3.35"/><circle cx="1072.6" cy="362.0" r="3.35"/><circle cx="1082.6" cy="359.6" r="3.35"/><circle cx="1085.0" cy="346.0" r="3.35"/><circle cx="1092.0" cy="338.0" r="3.35"/><circle cx="1095.6" cy="334.0" r="3.35"/><circle cx="1098.0" cy="320.0" r="3.35"/><circle cx="1105.4" cy="325.6" r="3.35"/><circle cx="1111.0" cy="315.0" r="3.35"/><circle cx="1115.4" cy="305.0" r="3.35"/><circle cx="1122.6" cy="316.6" r="3.35"/><circle cx="1134.0" cy="316.0" r="3.35"/><circle cx="1134.4" cy="331.0" r="3.35"/><circle cx="1138.0" cy="338.0" r="3.35"/><circle cx="1140.0" cy="352.0" r="3.35"/><circle cx="1149.0" cy="361.0" r="3.35"/><circle cx="1157.4" cy="355.0" r="3.35"/><circle cx="1162.6" cy="367.6" r="3.35"/><circle cx="1167.6" cy="373.0" r="3.35"/><circle cx="1172.7" cy="383.0" r="3.35"/><circle cx="1177.7" cy="386.0" r="3.35"/><circle cx="1186.0" cy="397.0" r="3.35"/><circle cx="1196.0" cy="396.0" r="3.35"/><circle cx="1205.0" cy="413.8" r="3.35"/><circle cx="1215.0" cy="404.5" r="3.35"/><circle cx="1219.3" cy="410.0" r="3.35"/><circle cx="1228.6" cy="403.7" r="3.35"/><circle cx="1241.2" cy="402.4" r="3.35"/></g>
<mask id="gm" maskUnits="userSpaceOnUse" x="0" y="0" width="1322" height="714"><rect x="0" y="0" width="1322" height="714" fill="#fff"/><path d="M148.4,446.0 L150.0,447.9 L153.9,449.4 L156.0,450.0 L159.4,450.2 L163.0,451.7 L164.9,449.5 L167.7,447.7 L170.0,446.2 L173.2,447.2 L175.9,445.5 L178.7,446.3 L180.0,444.4 L181.4,445.0 L184.0,445.9 L186.9,438.4 L189.7,431.6 L192.0,429.7 L196.0,411.8 L197.9,411.4 L200.0,410.2 L203.4,408.6 L206.2,409.5 L210.0,411.2 L211.7,414.2 L214.4,414.9 L216.0,416.0 L219.9,410.5 L222.7,406.8 L224.0,407.4 L225.4,407.2 L228.2,407.8 L230.0,406.1 L234.0,414.0 L236.4,413.0 L239.2,414.0 L242.0,415.7 L244.7,411.0 L246.0,410.2 L247.4,411.1 L250.2,409.7 L254.0,407.7 L255.7,409.5 L258.4,411.5 L260.0,412.5 L263.9,413.6 L266.6,411.0 L268.0,413.3 L269.4,414.2 L272.1,419.3 L274.0,420.0 L277.6,417.7 L280.4,414.2 L282.0,411.3 L285.9,413.0 L288.6,415.2 L290.0,415.2 L291.4,412.9 L294.1,416.1 L298.0,416.6 L299.6,411.9 L302.4,411.9 L306.0,409.7 L307.9,407.6 L310.6,411.8 L313.4,413.6 L316.0,409.9 L318.9,408.9 L321.6,409.9 L324.4,406.6 L328.0,403.5 L329.9,399.0 L332.6,402.3 L334.0,399.7 L335.4,395.5 L338.1,395.8 L342.0,394.8 L343.6,392.4 L347.0,392.5 L349.1,398.0 L352.0,406.1 L354.6,410.2 L358.0,413.7 L360.1,417.8 L362.0,422.3 L365.6,418.7 L368.4,418.6 L370.0,418.3 L373.9,419.1 L376.0,420.9 L379.4,417.9 L382.1,419.5 L384.0,420.9 L388.0,423.6 L390.4,423.3 L393.1,419.1 L396.0,417.3 L398.6,418.3 L401.4,415.2 L404.0,410.0 L408.0,415.6 L409.6,414.7 L412.4,416.0 L414.0,416.8 L417.9,425.6 L420.0,431.6 L423.4,426.7 L426.0,424.5 L428.9,422.8 L431.6,418.4 L434.0,417.8 L437.1,418.5 L439.9,422.7 L442.0,422.6 L446.0,431.7 L448.1,434.8 L452.0,435.4 L453.6,435.7 L456.4,439.9 L459.0,442.0 L461.9,435.4 L464.0,433.6 L467.4,432.8 L470.0,432.8 L472.9,429.4 L475.6,429.8 L478.4,428.6 L480.0,427.9 L484.0,429.2 L486.6,430.0 L489.4,429.1 L492.0,426.1 L494.9,423.0 L498.0,419.0 L500.4,419.1 L503.1,419.3 L506.0,416.9 L508.6,419.9 L510.0,420.8 L511.4,418.3 L514.1,417.7 L516.0,417.2 L519.6,412.0 L522.0,411.6 L526.0,405.5 L527.9,413.0 L530.0,415.3 L533.4,414.3 L536.0,410.6 L538.9,407.8 L541.6,408.1 L544.0,406.1 L547.1,401.7 L550.0,399.6 L552.6,395.8 L554.0,395.4 L555.4,393.7 L558.1,398.1 L560.9,394.1 L564.0,394.5 L566.4,390.0 L569.1,391.8 L572.0,388.3 L574.6,387.6 L578.0,386.0 L580.1,386.3 L582.9,384.8 L586.0,382.3 L588.4,381.0 L591.1,383.4 L594.0,378.9 L596.6,376.3 L600.0,372.7 L602.1,374.6 L604.0,375.4 L607.6,374.3 L610.0,375.2 L613.1,376.9 L615.9,380.7 L618.0,381.7 L621.4,381.7 L624.1,377.6 L626.0,377.1 L629.6,374.7 L632.4,371.2 L634.0,370.6 L638.0,369.8 L640.6,375.1 L644.0,377.0 L646.1,380.5 L648.9,379.9 L652.0,385.4 L654.4,382.3 L658.0,378.2 L659.9,377.1 L662.6,369.4 L664.0,368.7 L665.4,370.8 L668.0,364.6 L670.9,366.2 L674.0,369.8 L676.4,369.4 L679.1,370.3 L682.0,368.9 L684.6,364.1 L688.0,364.0 L690.1,363.5 L694.0,369.4 L695.6,370.0 L698.4,366.3 L701.1,365.5 L704.0,365.6 L706.6,362.3 L708.0,360.2 L709.4,360.1 L712.1,357.2 L716.0,355.5 L717.6,355.1 L720.4,351.2 L724.0,349.4 L725.9,346.1 L728.0,339.6 L731.4,334.8 L734.0,334.5 L736.9,333.2 L740.0,330.7 L742.4,332.3 L746.0,339.0 L747.9,339.8 L750.6,332.1 L752.0,330.4 L753.4,330.5 L756.1,328.0 L758.0,324.9 L761.6,327.0 L764.4,326.6 L766.0,325.9 L769.9,320.2 L772.6,319.3 L774.0,319.8 L775.4,318.0 L778.1,316.1 L782.0,311.8 L783.6,312.5 L786.4,310.6 L790.0,306.4 L791.9,304.8 L794.6,305.6 L798.0,303.7 L800.1,304.0 L804.0,297.8 L805.6,296.6 L808.0,294.4 L811.1,289.1 L814.0,288.6 L816.0,306.0 L820.0,319.5 L822.1,321.4 L826.0,326.9 L827.6,330.2 L831.0,344.7 L834.0,356.0 L835.9,353.6 L838.6,351.5 L840.0,350.3 L841.4,352.3 L844.0,359.8 L846.9,359.3 L850.0,358.6 L852.4,362.5 L855.0,367.0 L857.0,380.0 L860.0,373.8 L864.0,357.1 L866.1,359.1 L869.0,362.3 L870.0,377.9 L871.6,384.2 L874.0,393.4 L878.0,397.5 L879.9,393.1 L882.0,389.8 L884.0,370.6 L885.4,369.0 L888.0,364.6 L890.9,367.2 L894.0,365.9 L896.4,365.7 L898.0,362.1 L901.9,357.2 L904.0,357.5 L907.4,355.2 L910.0,353.0 L912.9,351.4 L916.0,342.2 L918.4,341.9 L922.0,337.4 L923.9,336.2 L927.0,334.1 L929.4,333.0 L932.1,334.8 L934.0,335.0 L938.0,344.2 L940.4,343.6 L944.0,348.1 L945.9,351.3 L948.6,355.7 L950.0,358.6 L951.4,361.1 L954.1,366.0 L956.0,371.2 L959.6,369.8 L962.0,372.8 L965.1,371.8 L968.0,367.4 L970.6,370.9 L972.0,372.3 L973.4,374.5 L976.0,386.6 L979.0,397.9 L982.0,409.5 L984.4,412.6 L986.0,413.7 L990.0,404.9 L992.6,396.7 L994.0,394.8 L995.4,396.7 L998.1,400.1 L1000.0,398.2 L1003.6,401.1 L1006.0,404.1 L1009.1,406.3 L1012.0,410.0 L1014.6,410.1 L1018.0,408.9 L1020.1,403.3 L1022.0,399.9 L1025.7,396.3 L1028.0,394.4 L1031.2,388.4 L1034.0,387.1 L1036.7,383.0 L1040.0,380.2 L1042.2,370.3 L1044.0,366.5 L1048.0,370.9 L1050.4,373.2 L1054.0,380.6 L1055.9,376.0 L1058.7,377.5 L1060.0,376.9 L1061.4,380.0 L1064.2,382.3 L1066.0,382.4 L1069.7,378.7 L1072.0,377.2 L1076.0,388.0 L1077.9,388.3 L1080.7,391.9 L1082.0,391.1 L1083.4,389.2 L1087.0,382.3 L1088.9,373.8 L1092.0,368.9 L1094.4,366.4 L1098.0,365.5 L1100.0,350.8 L1102.7,351.2 L1106.0,351.2 L1108.2,347.0 L1112.0,338.8 L1113.7,338.2 L1116.4,343.4 L1118.0,342.9 L1121.9,348.4 L1124.0,352.7 L1127.4,355.3 L1130.2,353.0 L1132.0,357.1 L1135.0,363.8 L1138.0,378.5 L1141.2,381.8 L1144.0,381.9 L1146.7,380.8 L1149.4,374.4 L1152.0,375.7 L1154.9,375.0 L1158.0,373.7 L1161.0,383.5 L1163.2,387.3 L1166.8,390.0 L1168.7,389.3 L1171.4,392.4 L1174.4,393.5 L1177.7,387.8 L1179.7,390.8 L1182.4,390.3 L1185.3,396.5 L1187.9,394.9 L1189.5,392.6 L1194.5,383.7 L1196.2,387.1 L1198.7,387.2 L1202.0,396.9 L1205.5,406.6 L1207.2,405.3 L1208.8,404.1 L1212.7,395.7 L1213.9,393.5 L1216.4,384.5 L1218.2,388.7 L1219.7,391.5 L1220.9,392.7 L1223.7,391.5 L1225.6,388.4 L1229.2,388.5 L1231.9,386.0 L1234.0,388.1 L1237.4,385.5 L1240.8,386.9 L1244.0,389.4" fill="none" stroke="#000" stroke-width="2.2" stroke-linejoin="round"/></mask>
<path d="M148.4,446.0 L150.0,447.9 L153.9,449.4 L156.0,450.0 L159.4,450.2 L163.0,451.7 L164.9,449.5 L167.7,447.7 L170.0,446.2 L173.2,447.2 L175.9,445.5 L178.7,446.3 L180.0,444.4 L181.4,445.0 L184.0,445.9 L186.9,438.4 L189.7,431.6 L192.0,429.7 L196.0,411.8 L197.9,411.4 L200.0,410.2 L203.4,408.6 L206.2,409.5 L210.0,411.2 L211.7,414.2 L214.4,414.9 L216.0,416.0 L219.9,410.5 L222.7,406.8 L224.0,407.4 L225.4,407.2 L228.2,407.8 L230.0,406.1 L234.0,414.0 L236.4,413.0 L239.2,414.0 L242.0,415.7 L244.7,411.0 L246.0,410.2 L247.4,411.1 L250.2,409.7 L254.0,407.7 L255.7,409.5 L258.4,411.5 L260.0,412.5 L263.9,413.6 L266.6,411.0 L268.0,413.3 L269.4,414.2 L272.1,419.3 L274.0,420.0 L277.6,417.7 L280.4,414.2 L282.0,411.3 L285.9,413.0 L288.6,415.2 L290.0,415.2 L291.4,412.9 L294.1,416.1 L298.0,416.6 L299.6,411.9 L302.4,411.9 L306.0,409.7 L307.9,407.6 L310.6,411.8 L313.4,413.6 L316.0,409.9 L318.9,408.9 L321.6,409.9 L324.4,406.6 L328.0,403.5 L329.9,399.0 L332.6,402.3 L334.0,399.7 L335.4,395.5 L338.1,395.8 L342.0,394.8 L343.6,392.4 L347.0,392.5 L349.1,398.0 L352.0,406.1 L354.6,410.2 L358.0,413.7 L360.1,417.8 L362.0,422.3 L365.6,418.7 L368.4,418.6 L370.0,418.3 L373.9,419.1 L376.0,420.9 L379.4,417.9 L382.1,419.5 L384.0,420.9 L388.0,423.6 L390.4,423.3 L393.1,419.1 L396.0,417.3 L398.6,418.3 L401.4,415.2 L404.0,410.0 L408.0,415.6 L409.6,414.7 L412.4,416.0 L414.0,416.8 L417.9,425.6 L420.0,431.6 L423.4,426.7 L426.0,424.5 L428.9,422.8 L431.6,418.4 L434.0,417.8 L437.1,418.5 L439.9,422.7 L442.0,422.6 L446.0,431.7 L448.1,434.8 L452.0,435.4 L453.6,435.7 L456.4,439.9 L459.0,442.0 L461.9,435.4 L464.0,433.6 L467.4,432.8 L470.0,432.8 L472.9,429.4 L475.6,429.8 L478.4,428.6 L480.0,427.9 L484.0,429.2 L486.6,430.0 L489.4,429.1 L492.0,426.1 L494.9,423.0 L498.0,419.0 L500.4,419.1 L503.1,419.3 L506.0,416.9 L508.6,419.9 L510.0,420.8 L511.4,418.3 L514.1,417.7 L516.0,417.2 L519.6,412.0 L522.0,411.6 L526.0,405.5 L527.9,413.0 L530.0,415.3 L533.4,414.3 L536.0,410.6 L538.9,407.8 L541.6,408.1 L544.0,406.1 L547.1,401.7 L550.0,399.6 L552.6,395.8 L554.0,395.4 L555.4,393.7 L558.1,398.1 L560.9,394.1 L564.0,394.5 L566.4,390.0 L569.1,391.8 L572.0,388.3 L574.6,387.6 L578.0,386.0 L580.1,386.3 L582.9,384.8 L586.0,382.3 L588.4,381.0 L591.1,383.4 L594.0,378.9 L596.6,376.3 L600.0,372.7 L602.1,374.6 L604.0,375.4 L607.6,374.3 L610.0,375.2 L613.1,376.9 L615.9,380.7 L618.0,381.7 L621.4,381.7 L624.1,377.6 L626.0,377.1 L629.6,374.7 L632.4,371.2 L634.0,370.6 L638.0,369.8 L640.6,375.1 L644.0,377.0 L646.1,380.5 L648.9,379.9 L652.0,385.4 L654.4,382.3 L658.0,378.2 L659.9,377.1 L662.6,369.4 L664.0,368.7 L665.4,370.8 L668.0,364.6 L670.9,366.2 L674.0,369.8 L676.4,369.4 L679.1,370.3 L682.0,368.9 L684.6,364.1 L688.0,364.0 L690.1,363.5 L694.0,369.4 L695.6,370.0 L698.4,366.3 L701.1,365.5 L704.0,365.6 L706.6,362.3 L708.0,360.2 L709.4,360.1 L712.1,357.2 L716.0,355.5 L717.6,355.1 L720.4,351.2 L724.0,349.4 L725.9,346.1 L728.0,339.6 L731.4,334.8 L734.0,334.5 L736.9,333.2 L740.0,330.7 L742.4,332.3 L746.0,339.0 L747.9,339.8 L750.6,332.1 L752.0,330.4 L753.4,330.5 L756.1,328.0 L758.0,324.9 L761.6,327.0 L764.4,326.6 L766.0,325.9 L769.9,320.2 L772.6,319.3 L774.0,319.8 L775.4,318.0 L778.1,316.1 L782.0,311.8 L783.6,312.5 L786.4,310.6 L790.0,306.4 L791.9,304.8 L794.6,305.6 L798.0,303.7 L800.1,304.0 L804.0,297.8 L805.6,296.6 L808.0,294.4 L811.1,289.1 L814.0,288.6 L816.0,306.0 L820.0,319.5 L822.1,321.4 L826.0,326.9 L827.6,330.2 L831.0,344.7 L834.0,356.0 L835.9,353.6 L838.6,351.5 L840.0,350.3 L841.4,352.3 L844.0,359.8 L846.9,359.3 L850.0,358.6 L852.4,362.5 L855.0,367.0 L857.0,380.0 L860.0,373.8 L864.0,357.1 L866.1,359.1 L869.0,362.3 L870.0,377.9 L871.6,384.2 L874.0,393.4 L878.0,397.5 L879.9,393.1 L882.0,389.8 L884.0,370.6 L885.4,369.0 L888.0,364.6 L890.9,367.2 L894.0,365.9 L896.4,365.7 L898.0,362.1 L901.9,357.2 L904.0,357.5 L907.4,355.2 L910.0,353.0 L912.9,351.4 L916.0,342.2 L918.4,341.9 L922.0,337.4 L923.9,336.2 L927.0,334.1 L929.4,333.0 L932.1,334.8 L934.0,335.0 L938.0,344.2 L940.4,343.6 L944.0,348.1 L945.9,351.3 L948.6,355.7 L950.0,358.6 L951.4,361.1 L954.1,366.0 L956.0,371.2 L959.6,369.8 L962.0,372.8 L965.1,371.8 L968.0,367.4 L970.6,370.9 L972.0,372.3 L973.4,374.5 L976.0,386.6 L979.0,397.9 L982.0,409.5 L984.4,412.6 L986.0,413.7 L990.0,404.9 L992.6,396.7 L994.0,394.8 L995.4,396.7 L998.1,400.1 L1000.0,398.2 L1003.6,401.1 L1006.0,404.1 L1009.1,406.3 L1012.0,410.0 L1014.6,410.1 L1018.0,408.9 L1020.1,403.3 L1022.0,399.9 L1025.7,396.3 L1028.0,394.4 L1031.2,388.4 L1034.0,387.1 L1036.7,383.0 L1040.0,380.2 L1042.2,370.3 L1044.0,366.5 L1048.0,370.9 L1050.4,373.2 L1054.0,380.6 L1055.9,376.0 L1058.7,377.5 L1060.0,376.9 L1061.4,380.0 L1064.2,382.3 L1066.0,382.4 L1069.7,378.7 L1072.0,377.2 L1076.0,388.0 L1077.9,388.3 L1080.7,391.9 L1082.0,391.1 L1083.4,389.2 L1087.0,382.3 L1088.9,373.8 L1092.0,368.9 L1094.4,366.4 L1098.0,365.5 L1100.0,350.8 L1102.7,351.2 L1106.0,351.2 L1108.2,347.0 L1112.0,338.8 L1113.7,338.2 L1116.4,343.4 L1118.0,342.9 L1121.9,348.4 L1124.0,352.7 L1127.4,355.3 L1130.2,353.0 L1132.0,357.1 L1135.0,363.8 L1138.0,378.5 L1141.2,381.8 L1144.0,381.9 L1146.7,380.8 L1149.4,374.4 L1152.0,375.7 L1154.9,375.0 L1158.0,373.7 L1161.0,383.5 L1163.2,387.3 L1166.8,390.0 L1168.7,389.3 L1171.4,392.4 L1174.4,393.5 L1177.7,387.8 L1179.7,390.8 L1182.4,390.3 L1185.3,396.5 L1187.9,394.9 L1189.5,392.6 L1194.5,383.7 L1196.2,387.1 L1198.7,387.2 L1202.0,396.9 L1205.5,406.6 L1207.2,405.3 L1208.8,404.1 L1212.7,395.7 L1213.9,393.5 L1216.4,384.5 L1218.2,388.7 L1219.7,391.5 L1220.9,392.7 L1223.7,391.5 L1225.6,388.4 L1229.2,388.5 L1231.9,386.0 L1234.0,388.1 L1237.4,385.5 L1240.8,386.9 L1244.0,389.4" fill="none" stroke="#98b954" stroke-width="7.4" stroke-linejoin="round" stroke-dasharray="21 7" mask="url(#gm)"/>
<mask id="pm" maskUnits="userSpaceOnUse" x="0" y="0" width="1322" height="714"><rect x="0" y="0" width="1322" height="714" fill="#fff"/><path d="M172.1,434.3 L170.0,435.8 L170.0,435.8 L167.9,434.3ZM184.4,441.5 L183.2,439.4 L183.2,439.4 L180.8,439.8ZM188.7,439.6 L187.1,440.0 L186.7,440.4 L186.3,442.1ZM201.0,423.4 L200.0,425.3 L200.0,425.3 L197.8,425.2ZM203.6,423.6 L202.2,423.7 L201.0,423.0 L200.3,421.7ZM211.6,428.0 L210.0,426.0 L210.0,426.0 L207.6,426.9ZM212.9,432.1 L211.1,432.8 L211.1,432.8 L209.6,431.6ZM220.6,433.0 L218.9,431.1 L217.7,431.0 L215.8,432.6ZM234.5,422.5 L232.8,424.2 L231.2,424.2 L229.5,422.5ZM242.4,426.5 L239.0,423.1 L238.8,423.1 L236.9,427.6ZM249.1,417.2 L248.3,418.9 L245.0,419.5 L243.6,418.2ZM252.2,416.4 L250.5,415.2 L250.5,415.2 L248.7,416.1ZM255.5,420.4 L253.0,421.6 L252.9,421.6 L251.3,419.4ZM258.4,416.4 L256.0,416.1 L255.6,416.4 L254.8,418.6ZM269.3,405.7 L267.4,408.2 L267.4,408.2 L264.8,406.5ZM282.4,404.1 L280.8,405.3 L280.8,405.3 L278.9,404.4ZM288.5,403.1 L287.2,401.6 L287.2,401.6 L285.2,401.9ZM296.7,404.3 L294.9,404.7 L294.6,404.6 L293.4,403.2ZM302.6,403.7 L300.7,401.4 L300.4,401.3 L298.0,403.1ZM309.5,404.6 L307.6,405.6 L305.7,405.0 L304.8,403.1ZM313.7,406.0 L311.9,402.1 L311.9,402.1 L308.5,404.8ZM324.3,396.5 L322.0,396.3 L321.9,396.3 L320.9,398.5ZM351.5,376.9 L348.6,379.5 L348.6,379.5 L346.4,376.3ZM357.3,379.7 L356.4,378.5 L354.4,378.1 L353.1,378.8ZM385.2,380.4 L384.1,382.7 L381.7,383.2 L379.9,381.5ZM393.0,387.9 L391.3,384.3 L391.3,384.3 L388.0,386.7ZM403.2,381.2 L401.7,382.5 L401.7,382.5 L399.8,381.7ZM412.8,392.0 L411.8,389.6 L410.7,389.2 L408.3,390.2ZM413.3,395.4 L411.0,396.4 L410.5,396.3 L409.1,394.1ZM422.5,399.4 L420.9,398.4 L419.7,398.5 L418.4,399.7ZM436.5,394.9 L433.8,397.1 L432.7,396.9 L431.3,393.6ZM440.3,397.3 L438.7,393.7 L437.7,393.5 L434.8,396.2ZM442.3,398.4 L439.5,401.1 L437.8,400.6 L436.7,396.9ZM445.9,404.5 L445.5,403.1 L443.0,401.7 L441.7,402.2ZM445.0,408.3 L443.6,408.7 L441.3,407.5 L440.8,406.2ZM457.5,420.8 L455.1,421.6 L454.2,421.2 L453.2,418.8ZM461.2,420.3 L459.6,416.3 L457.2,416.1 L455.1,419.8ZM478.6,401.3 L475.5,405.1 L475.3,405.1 L473.0,400.8ZM481.4,402.1 L480.4,400.2 L480.4,400.2 L478.2,400.3ZM489.6,397.9 L488.3,398.6 L485.7,397.9 L485.0,396.5ZM496.8,398.1 L494.9,396.8 L492.8,397.4 L491.8,399.5ZM510.5,393.3 L508.4,395.5 L507.7,395.5 L505.5,393.3ZM516.3,394.4 L513.7,392.0 L513.0,392.1 L511.1,395.1ZM527.5,387.8 L524.9,390.6 L523.9,390.5 L522.0,387.2ZM530.9,388.9 L529.8,387.0 L529.8,387.0 L527.5,387.2ZM543.9,397.1 L541.8,393.8 L540.8,393.7 L538.4,396.8ZM557.0,376.3 L554.2,377.1 L554.2,377.1 L552.9,374.4ZM572.9,371.5 L571.8,373.2 L570.9,373.5 L569.0,372.9ZM572.9,367.0 L571.0,366.4 L570.1,366.7 L569.0,368.4ZM579.7,365.9 L578.2,367.2 L578.2,367.2 L576.3,366.6ZM581.2,361.0 L578.9,360.3 L578.9,360.3 L577.4,362.2ZM588.5,358.1 L586.1,361.7 L585.8,361.7 L583.0,358.4ZM591.0,357.3 L589.3,355.2 L589.3,355.2 L586.8,356.5ZM596.5,357.6 L595.3,359.0 L595.3,359.0 L593.5,358.8ZM603.0,357.9 L601.4,359.0 L601.1,359.1 L599.3,358.1ZM606.7,354.4 L604.9,353.4 L604.9,353.4 L603.3,354.4ZM613.8,354.8 L612.2,353.8 L610.4,354.2 L609.3,355.7ZM618.7,354.4 L617.7,355.8 L617.7,355.8 L615.9,355.7ZM632.7,348.1 L631.7,350.0 L631.7,350.0 L629.5,349.9ZM639.2,346.8 L637.1,347.5 L637.1,347.5 L635.6,346.0ZM654.6,358.0 L652.9,355.2 L649.6,355.5 L648.5,358.5ZM688.7,328.1 L686.7,327.3 L686.7,327.3 L685.2,328.7ZM692.4,331.4 L690.2,333.3 L690.2,333.3 L688.0,331.4ZM700.4,333.9 L698.7,332.8 L698.7,332.8 L696.9,333.7ZM711.4,324.9 L710.0,323.9 L708.2,324.0 L707.0,325.3ZM714.6,327.2 L712.3,329.5 L712.3,329.5 L709.9,327.3ZM718.3,325.7 L717.0,324.5 L716.5,324.4 L714.9,325.0ZM742.7,319.2 L739.8,323.1 L739.4,323.0 L737.0,318.9ZM755.0,335.8 L754.3,334.2 L751.4,333.6 L750.0,334.6ZM763.8,322.2 L761.6,323.9 L761.6,323.9 L759.5,322.1ZM766.6,319.3 L765.0,317.9 L765.0,317.9 L763.0,318.8ZM792.3,299.7 L790.5,301.3 L789.7,301.4 L787.8,299.8ZM795.3,296.0 L793.4,295.6 L793.4,295.6 L792.1,297.0ZM812.0,282.1 L810.8,284.3 L809.4,284.7 L807.2,283.4ZM827.8,288.3 L825.6,288.2 L825.6,288.2 L824.8,286.1ZM835.8,292.9 L833.2,289.2 L832.8,289.2 L830.2,292.9ZM838.7,292.6 L836.3,296.1 L835.0,296.0 L832.9,292.3ZM841.0,292.7 L838.9,289.0 L837.4,288.9 L835.1,292.6ZM844.3,290.6 L842.8,293.0 L842.7,293.1 L840.1,292.0ZM849.9,293.2 L847.4,293.1 L847.4,293.1 L846.7,290.7ZM858.8,301.7 L855.2,296.4 L853.9,296.7 L852.7,303.0ZM862.9,287.4 L861.0,287.6 L861.0,287.6 L860.3,289.4ZM869.3,285.3 L868.6,287.0 L868.1,287.4 L866.3,287.4ZM868.1,287.4 L866.3,287.4 L864.8,286.1 L864.6,284.2ZM883.7,303.6 L881.6,302.4 L881.6,302.4 L879.8,304.0ZM888.2,305.6 L886.8,306.8 L886.8,306.8 L885.0,306.3ZM912.2,284.5 L911.0,288.3 L911.0,288.3 L907.4,286.4ZM915.6,283.0 L911.5,280.9 L911.5,280.9 L910.7,285.4ZM920.3,272.9 L919.8,274.8 L916.0,275.8 L914.6,274.5ZM920.8,270.9 L919.4,269.6 L919.3,269.6 L917.4,270.1ZM927.1,272.3 L925.4,273.6 L924.6,273.6 L922.9,272.3ZM928.7,268.2 L927.1,266.9 L925.0,267.3 L923.8,269.0ZM932.2,268.6 L930.7,270.9 L930.7,270.9 L928.1,269.8ZM942.5,269.8 L940.7,271.8 L940.7,271.8 L938.3,270.5ZM948.4,269.9 L946.4,267.7 L946.4,267.7 L943.9,269.5ZM952.0,267.1 L949.6,266.7 L949.5,266.7 L948.4,268.9ZM959.3,259.7 L957.4,266.0 L956.8,266.1 L953.2,260.7ZM972.7,264.8 L970.5,263.1 L970.5,263.1 L968.5,264.9ZM976.2,267.3 L973.3,269.7 L973.3,269.7 L971.2,266.6ZM984.6,282.8 L982.0,278.1 L981.5,278.1 L978.7,282.7ZM987.3,281.5 L985.7,284.3 L985.7,284.3 L982.9,282.9ZM992.3,281.1 L990.4,279.2 L990.1,279.2 L987.9,280.8ZM996.3,282.8 L994.9,284.0 L991.4,283.2 L990.8,281.4ZM1004.1,291.9 L1002.9,289.0 L1001.9,288.7 L999.2,290.3ZM1009.1,290.1 L1008.0,291.5 L1006.7,291.8 L1005.1,291.1ZM1011.6,285.0 L1009.7,285.1 L1009.7,285.1 L1008.8,286.9ZM1017.7,284.2 L1016.9,285.8 L1016.9,285.8 L1015.1,286.1ZM1028.6,273.4 L1027.7,275.2 L1027.7,275.2 L1025.7,275.2ZM1045.8,256.5 L1043.4,260.1 L1041.9,260.0 L1040.0,256.2ZM1047.9,257.0 L1046.1,253.2 L1045.1,253.1 L1042.3,256.3ZM1050.2,257.5 L1047.9,260.3 L1047.4,260.3 L1045.1,257.5ZM1077.1,268.7 L1076.2,266.8 L1076.2,266.8 L1074.1,266.8ZM1077.8,273.7 L1075.9,273.6 L1075.9,273.6 L1075.0,272.1ZM1085.3,278.5 L1083.9,273.9 L1079.9,274.0 L1078.7,278.7ZM1093.2,257.7 L1091.5,256.9 L1091.5,256.9 L1089.9,257.9ZM1102.9,242.1 L1101.3,245.0 L1100.8,245.2 L1098.0,243.3ZM1104.5,239.5 L1102.0,237.8 L1102.0,237.8 L1100.1,240.1ZM1125.6,231.2 L1124.2,232.8 L1122.5,233.0 L1120.9,231.7ZM1126.8,227.7 L1125.2,226.4 L1125.2,226.4 L1123.3,227.2ZM1128.7,232.3 L1126.9,233.1 L1126.9,233.1 L1125.3,231.9ZM1132.2,228.6 L1130.7,227.5 L1130.7,227.5 L1128.9,228.2ZM1136.1,233.2 L1133.4,233.6 L1133.4,233.6 L1132.5,231.1ZM1141.2,234.8 L1138.8,228.6 L1137.3,228.6 L1134.9,234.7ZM1145.1,227.5 L1143.8,230.8 L1141.0,231.0 L1139.1,228.0ZM1146.8,227.5 L1144.9,224.4 L1144.3,224.3 L1141.6,226.7ZM1159.2,222.9 L1156.9,223.8 L1156.9,223.8 L1155.3,221.8ZM1164.9,221.8 L1162.3,220.0 L1161.2,220.3 L1159.9,223.2ZM1171.5,215.2 L1170.3,216.9 L1170.3,216.9 L1168.2,216.7ZM1175.3,211.4 L1173.1,210.6 L1173.1,210.6 L1171.6,212.4ZM1180.6,212.2 L1179.5,213.5 L1178.8,213.8 L1177.1,213.3ZM1188.0,214.9 L1187.0,213.3 L1187.0,213.3 L1185.2,213.3ZM1199.1,212.7 L1196.7,212.8 L1196.7,212.8 L1195.8,210.7ZM1207.5,220.6 L1206.0,216.9 L1204.7,216.7 L1201.9,219.6ZM1211.1,221.2 L1208.3,222.2 L1207.9,222.0 L1206.8,219.3ZM1215.1,221.8 L1213.0,216.7 L1211.0,216.7 L1208.9,221.8Z" fill="#000"/></mask>
<path mask="url(#pm)" d="M148.4,446.0 L150.0,445.6 L153.9,442.5 L156.0,441.6 L159.4,440.8 L162.2,438.1 L165.0,437.6 L167.7,433.4 L170.0,431.6 L173.2,434.0 L175.9,435.3 L178.0,437.1 L180.0,440.7 L181.4,443.2 L184.2,442.7 L188.0,443.3 L189.7,442.8 L192.0,431.8 L195.2,427.1 L198.0,421.8 L200.7,421.9 L202.0,420.3 L203.4,420.2 L207.0,427.7 L208.9,430.1 L211.7,428.9 L214.4,431.1 L218.0,435.2 L219.9,433.5 L222.0,427.3 L225.4,424.9 L228.2,424.1 L232.0,420.1 L233.7,421.9 L236.4,425.3 L240.0,428.9 L241.9,424.5 L244.7,418.6 L246.0,415.7 L247.4,417.1 L250.2,419.2 L254.0,417.3 L255.7,419.5 L258.0,419.8 L261.0,411.8 L263.9,407.1 L266.6,403.6 L269.4,405.4 L272.0,404.5 L274.9,403.2 L277.6,403.3 L280.4,401.3 L284.0,403.1 L285.9,405.3 L288.6,404.7 L291.4,402.9 L294.1,401.4 L296.0,401.0 L300.0,405.8 L302.4,404.0 L306.0,402.6 L307.9,401.6 L310.6,407.4 L314.0,404.7 L316.1,404.6 L318.9,402.8 L321.6,399.7 L324.0,399.9 L327.1,393.1 L330.0,390.7 L332.6,386.5 L336.0,385.5 L338.1,383.6 L340.9,383.2 L343.6,379.4 L346.0,377.3 L349.1,374.4 L351.9,378.3 L354.6,381.8 L356.0,381.1 L357.4,381.2 L360.1,382.7 L362.9,384.4 L366.0,385.3 L368.4,385.4 L371.1,387.6 L374.0,387.3 L376.6,385.3 L380.0,383.5 L382.1,379.0 L384.0,380.7 L387.6,384.7 L390.0,389.4 L394.0,386.6 L395.9,384.6 L398.6,380.6 L401.0,378.6 L404.1,379.8 L406.0,384.4 L409.6,393.3 L412.0,392.3 L415.1,397.4 L417.0,399.9 L420.6,402.2 L422.0,401.0 L423.4,400.0 L426.1,395.5 L430.0,394.1 L431.6,394.5 L434.4,392.3 L437.1,398.7 L440.0,395.9 L442.6,405.4 L444.0,405.0 L445.4,408.8 L448.0,411.4 L450.9,416.5 L454.0,418.4 L456.4,417.6 L458.0,421.6 L461.9,414.9 L464.0,413.1 L467.4,410.2 L470.0,404.6 L472.9,403.0 L476.0,399.2 L478.4,403.7 L482.0,403.5 L483.9,402.8 L486.6,395.6 L488.0,394.9 L489.4,397.5 L493.0,399.6 L494.9,400.9 L497.6,394.9 L500.0,393.5 L503.1,393.3 L505.9,393.2 L508.0,391.0 L511.4,394.5 L514.0,396.9 L516.9,392.3 L520.0,389.6 L522.4,388.3 L525.0,385.5 L527.9,390.6 L530.6,390.3 L532.0,391.1 L533.4,392.3 L536.1,393.4 L538.9,395.6 L541.0,398.9 L544.4,394.7 L547.0,388.5 L550.0,375.6 L552.6,374.0 L556.0,373.0 L558.1,377.6 L561.0,378.3 L563.6,377.3 L566.4,375.3 L570.0,369.7 L571.9,370.2 L574.6,365.8 L577.4,363.4 L580.1,364.3 L582.0,361.8 L585.6,356.2 L588.4,359.5 L592.0,357.7 L593.9,355.4 L596.6,355.7 L599.4,356.3 L601.0,355.1 L605.0,357.3 L607.6,355.8 L610.4,356.8 L612.0,357.7 L616.0,352.4 L618.6,352.5 L621.4,352.7 L624.1,352.4 L628.0,349.7 L629.6,346.5 L632.4,346.6 L635.1,344.6 L638.0,343.6 L640.6,346.3 L644.0,349.5 L646.1,352.0 L650.0,356.9 L651.6,359.7 L654.4,352.6 L658.0,349.8 L659.9,347.4 L662.6,347.4 L666.0,346.2 L668.1,340.0 L672.0,334.4 L673.6,331.5 L676.4,330.6 L679.1,329.1 L681.9,329.6 L684.0,329.8 L687.4,331.2 L690.1,328.8 L694.0,332.0 L695.6,334.8 L698.4,336.7 L702.0,334.9 L703.9,329.9 L706.6,326.8 L708.0,326.6 L709.4,327.6 L712.1,324.8 L716.0,328.2 L717.6,327.7 L720.4,329.2 L724.0,329.3 L725.9,327.5 L728.6,327.7 L731.4,328.8 L734.0,327.1 L736.9,321.3 L740.0,317.2 L742.4,321.4 L746.0,325.8 L747.9,329.4 L750.6,334.6 L752.0,337.3 L753.4,336.3 L756.1,324.2 L758.0,322.5 L761.6,319.5 L764.4,321.8 L768.0,320.2 L769.9,319.7 L772.6,317.8 L776.0,315.8 L778.1,312.5 L781.0,307.9 L783.6,306.8 L786.4,300.5 L790.0,297.2 L791.9,298.7 L794.6,299.3 L798.0,295.6 L800.1,293.4 L804.0,287.9 L805.6,286.8 L809.0,280.5 L811.1,281.8 L813.9,281.9 L816.0,281.8 L819.4,285.1 L822.0,285.7 L824.9,284.8 L828.0,284.9 L830.4,291.2 L833.0,294.9 L835.9,290.6 L838.0,294.4 L841.4,288.9 L844.0,289.9 L846.9,289.7 L850.0,289.8 L852.4,298.3 L856.0,303.6 L857.9,293.9 L860.0,291.2 L863.4,290.7 L866.1,284.0 L868.0,284.0 L869.0,296.9 L871.6,300.9 L874.4,303.3 L877.1,305.7 L879.9,305.3 L882.0,306.5 L886.0,303.0 L888.1,303.7 L892.0,301.9 L893.6,298.6 L896.4,296.2 L900.0,293.7 L901.9,291.2 L904.6,289.6 L907.4,288.3 L909.0,283.4 L914.0,286.0 L915.6,277.3 L917.0,272.0 L918.4,273.4 L921.1,272.6 L925.0,269.6 L926.6,270.9 L929.4,266.7 L932.1,267.8 L935.0,270.2 L937.6,270.1 L940.0,267.5 L943.1,269.2 L945.9,272.2 L949.0,270.0 L951.4,270.4 L954.1,265.0 L956.0,258.8 L959.6,264.2 L962.4,265.3 L964.0,265.6 L967.9,265.4 L970.6,267.5 L974.0,264.7 L976.1,267.9 L979.0,279.7 L981.6,284.5 L984.4,279.8 L988.0,281.6 L989.9,283.5 L992.6,281.5 L994.0,280.3 L995.4,284.0 L998.1,286.7 L1001.0,293.2 L1003.6,291.6 L1006.4,288.0 L1008.0,288.7 L1011.9,288.4 L1014.6,282.7 L1017.4,282.3 L1019.0,281.6 L1022.9,276.9 L1025.7,271.8 L1028.0,271.8 L1031.2,267.7 L1033.9,266.9 L1036.0,264.7 L1039.4,260.0 L1043.0,254.6 L1044.9,258.5 L1047.7,255.3 L1050.0,258.1 L1053.2,259.2 L1055.9,262.5 L1058.0,264.1 L1061.4,264.2 L1064.2,262.7 L1068.0,263.6 L1069.7,264.6 L1072.4,266.7 L1074.0,270.2 L1077.9,270.3 L1080.7,274.8 L1082.0,279.5 L1083.4,273.9 L1086.0,260.9 L1088.9,259.4 L1091.7,260.8 L1095.0,258.7 L1098.0,243.9 L1099.9,240.5 L1102.7,242.3 L1106.0,238.4 L1108.2,237.0 L1110.9,236.9 L1113.7,235.6 L1116.0,234.4 L1119.2,233.6 L1123.0,229.0 L1124.7,230.4 L1127.4,229.2 L1130.2,231.3 L1133.0,230.2 L1135.7,229.9 L1138.0,236.0 L1142.0,226.2 L1143.9,229.2 L1146.7,226.8 L1150.0,224.2 L1152.2,221.8 L1154.9,220.9 L1158.0,219.7 L1160.4,222.8 L1163.0,224.6 L1167.0,215.7 L1168.7,213.3 L1171.4,213.6 L1174.2,214.6 L1178.0,210.0 L1179.7,210.5 L1182.4,212.3 L1185.2,216.7 L1188.0,216.7 L1190.7,216.1 L1193.4,211.3 L1196.0,209.4 L1198.9,209.3 L1202.0,216.2 L1204.4,221.9 L1207.2,219.0 L1209.9,218.0 L1212.0,223.1 L1216.0,213.6 L1218.2,211.3 L1220.9,206.9 L1223.0,204.0 L1226.4,200.4 L1229.2,197.5 L1233.0,194.0" fill="none" stroke="#7d60a0" stroke-width="6.8" stroke-linejoin="round" stroke-linecap="round" stroke-dasharray="14.10 14.10"/>
<line x1="85.2" y1="613.5" x2="174.8" y2="613.5" stroke="#4a7ebb" stroke-width="7"/>
<rect x="85.1" y="668.3" width="24.8" height="2.6" fill="#98b954"/><rect x="85.1" y="673.3" width="24.8" height="2.6" fill="#98b954"/>
<rect x="117.1" y="668.3" width="21.0" height="2.6" fill="#98b954"/><rect x="117.1" y="673.3" width="21.0" height="2.6" fill="#98b954"/>
<rect x="145.2" y="668.3" width="21.0" height="2.6" fill="#98b954"/><rect x="145.2" y="673.3" width="21.0" height="2.6" fill="#98b954"/>
<g fill="#be4b48"><circle cx="673.8" cy="613.4" r="3.4"/><circle cx="687.9" cy="613.4" r="3.4"/><circle cx="702" cy="613.4" r="3.4"/><circle cx="716" cy="613.4" r="3.4"/><circle cx="730.3" cy="613.4" r="3.4"/><circle cx="744.4" cy="613.4" r="3.4"/></g>
<line x1="673.8" y1="672.1" x2="745" y2="672.1" stroke="#7d60a0" stroke-width="7.2" stroke-linecap="round" stroke-dasharray="14.2 14.1"/>
</svg></body></html>
